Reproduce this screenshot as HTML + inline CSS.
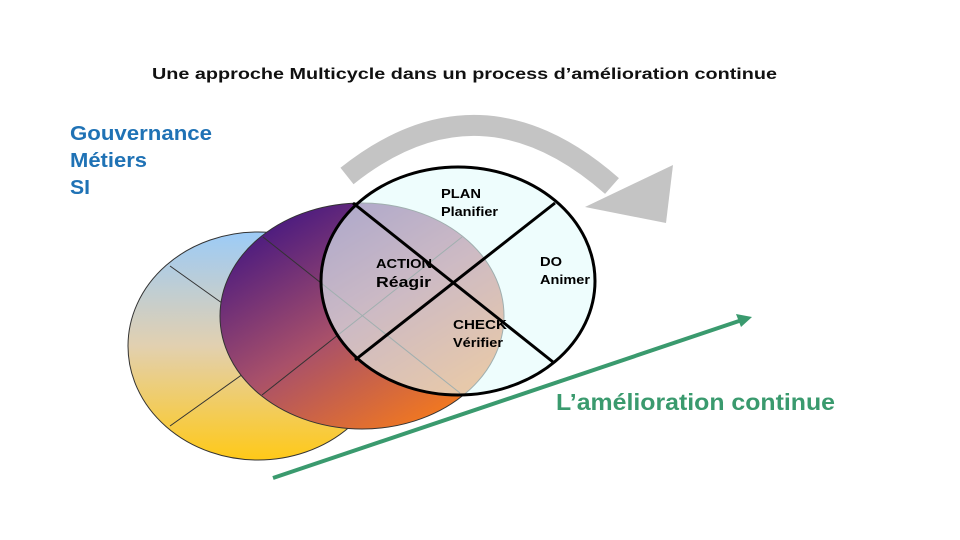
<!DOCTYPE html>
<html><head><meta charset="utf-8"><style>
html,body{margin:0;padding:0;background:#fff;}
svg{display:block;}
text{font-family:"Liberation Sans",Arial,sans-serif;font-weight:bold;}
</style></head><body>
<svg width="960" height="540" viewBox="0 0 960 540" xmlns="http://www.w3.org/2000/svg">
<defs>
<linearGradient id="gb" x1="0" y1="0" x2="0" y2="1">
<stop offset="0" stop-color="#9ccbf7"/><stop offset="0.5" stop-color="#e2d0b0"/><stop offset="1" stop-color="#ffc918"/>
</linearGradient>
<linearGradient id="gm" x1="0.15" y1="0.1" x2="0.8" y2="0.95">
<stop offset="0" stop-color="#4a1a80"/><stop offset="0.5" stop-color="#a8506a"/><stop offset="1" stop-color="#f57a1c"/>
</linearGradient>
</defs>
<rect width="960" height="540" fill="#fff"/>
<text x="152" y="79" font-size="16" textLength="625" lengthAdjust="spacingAndGlyphs" fill="#111">Une approche Multicycle  dans un process d’amélioration  continue</text>
<text x="70" y="140" font-size="20" textLength="142" lengthAdjust="spacingAndGlyphs" fill="#1f72b5">Gouvernance</text>
<text x="70" y="167" font-size="20" textLength="77" lengthAdjust="spacingAndGlyphs" fill="#1f72b5">Métiers</text>
<text x="70" y="194" font-size="20" textLength="20" lengthAdjust="spacingAndGlyphs" fill="#1f72b5">SI</text>
<path d="M347,176 Q480,70 612,186" fill="none" stroke="#c4c4c4" stroke-width="21"/>
<polygon points="585,207 673,165 666,223" fill="#c4c4c4"/>
<ellipse cx="258" cy="346" rx="130" ry="114" fill="url(#gb)" stroke="#333" stroke-width="1"/>
<line x1="170" y1="266" x2="330" y2="380" stroke="#333" stroke-width="1"/>
<line x1="170" y1="426" x2="330" y2="312" stroke="#333" stroke-width="1"/>
<ellipse cx="362" cy="316" rx="142" ry="113" fill="url(#gm)" stroke="#333" stroke-width="1"/>
<line x1="263" y1="237" x2="460" y2="393" stroke="#333" stroke-width="1"/>
<line x1="462" y1="237" x2="262" y2="395" stroke="#333" stroke-width="1"/>
<ellipse cx="458" cy="281" rx="137" ry="114" fill="#e4fbfb" fill-opacity="0.62" stroke="#000" stroke-width="3"/>
<line x1="353" y1="203" x2="553" y2="362" stroke="#000" stroke-width="3"/>
<line x1="555" y1="203" x2="355" y2="360" stroke="#000" stroke-width="3"/>
<line x1="273" y1="478" x2="742" y2="320" stroke="#3a9a6e" stroke-width="4"/>
<polygon points="752,317 736,314 741,327" fill="#3a9a6e"/>
<text x="556" y="410" font-size="23" textLength="279" lengthAdjust="spacingAndGlyphs" fill="#3a9a6e">L’amélioration continue</text>
<text x="441" y="198" font-size="13" textLength="40" lengthAdjust="spacingAndGlyphs" fill="#000">PLAN</text>
<text x="441" y="216" font-size="13" textLength="57" lengthAdjust="spacingAndGlyphs" fill="#000">Planifier</text>
<text x="376" y="268" font-size="12.5" textLength="56" lengthAdjust="spacingAndGlyphs" fill="#000">ACTION</text>
<text x="376" y="287" font-size="15" textLength="55" lengthAdjust="spacingAndGlyphs" fill="#000">Réagir</text>
<text x="540" y="266" font-size="12.5" textLength="22" lengthAdjust="spacingAndGlyphs" fill="#000">DO</text>
<text x="540" y="284" font-size="12.5" textLength="50" lengthAdjust="spacingAndGlyphs" fill="#000">Animer</text>
<text x="453" y="329" font-size="12.5" textLength="54" lengthAdjust="spacingAndGlyphs" fill="#000">CHECK</text>
<text x="453" y="347" font-size="12.5" textLength="50" lengthAdjust="spacingAndGlyphs" fill="#000">Vérifier</text>
</svg>
</body></html>
